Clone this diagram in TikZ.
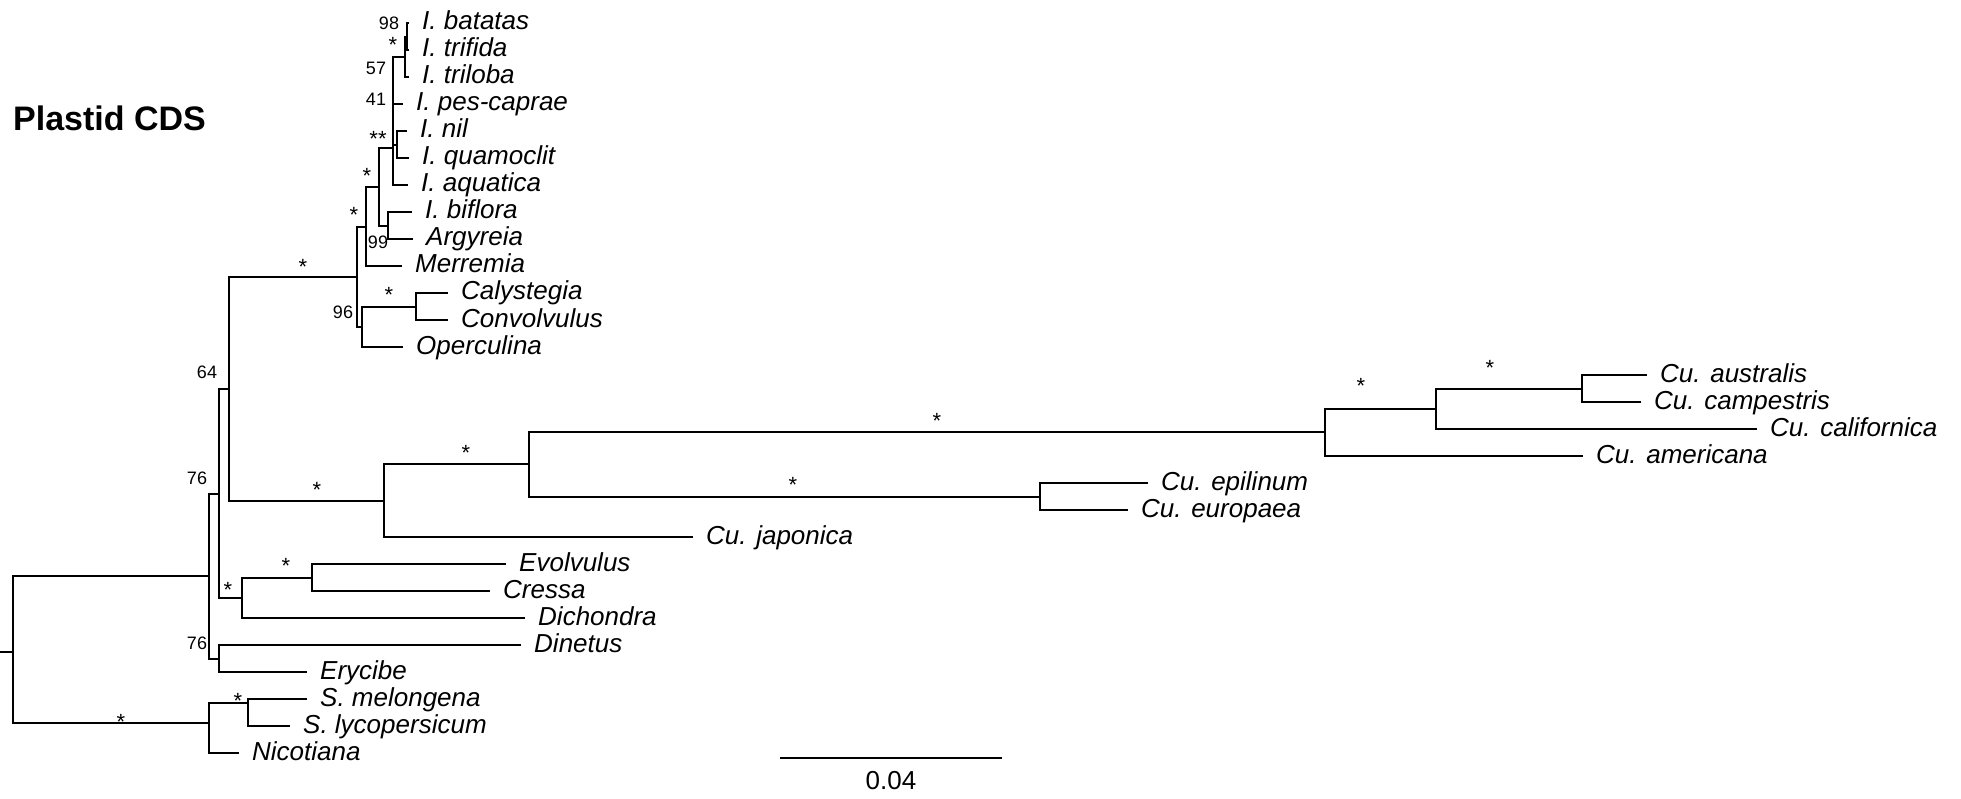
\documentclass[tikz,border=0pt]{standalone}
\usepackage{fontspec}
\setmainfont{Liberation Sans}
\newcommand\tiplbl[4]{\coordinate (#1) at (#2,#3); \node[taxon] (#1-l) at (#2+13,#3+7) {#4};}
\begin{document}
\begin{tikzpicture}[x=1pt,y=-1pt,
  branch/.style={line width=2.8pt},
  taxon/.style={font=\fontsize{26}{26}\selectfont\itshape, inner sep=0pt, anchor=base west},
  supp/.style={font=\fontsize{18}{18}\selectfont, inner sep=0pt, anchor=base},
  starlbl/.style={font=\fontsize{22}{22}\selectfont, inner sep=0pt, anchor=base}]
\useasboundingbox (0,0) rectangle (1961,799);

% title
\node[font=\fontsize{34}{34}\selectfont\bfseries, inner sep=0pt, anchor=base west] (title) at (13,131) {Plastid CDS};

% internal nodes
\coordinate (stub) at (0,652);
\coordinate (root) at (13,652);
\coordinate (A) at (209,576);
\coordinate (S) at (209,723);
\coordinate (B) at (219,494);
\coordinate (F) at (219,659);
\coordinate (C) at (229,389);
\coordinate (D) at (242,598);
\coordinate (G) at (357,277);
\coordinate (Q) at (384,501);
\coordinate (J) at (366,227);
\coordinate (H) at (362,327);
\coordinate (K) at (379,187);
\coordinate (P) at (393,148);
\coordinate (L) at (388,226);
\coordinate (N) at (405,57);
\coordinate (O) at (407,37);
\coordinate (NQ) at (397,145);
\coordinate (I) at (416,307);
\coordinate (R) at (529,464);
\coordinate (V) at (1325,432);
\coordinate (W) at (1436,409);
\coordinate (X) at (1582,389);
\coordinate (U) at (1040,497);
\coordinate (E) at (312,578);
\coordinate (T) at (248,703);

% tips
\tiplbl{batatas}{409}{23}{I. batatas}
\tiplbl{trifida}{409}{50}{I. trifida}
\tiplbl{triloba}{409}{77}{I. triloba}
\tiplbl{pescaprae}{403}{104}{I. pes-caprae}
\tiplbl{nil}{407}{131}{I. nil}
\tiplbl{quamoclit}{409}{158}{I. quamoclit}
\tiplbl{aquatica}{408}{185}{I. aquatica}
\tiplbl{biflora}{412}{212}{I. biflora}
\tiplbl{argyreia}{413}{239}{Argyreia}
\tiplbl{merremia}{402}{266}{Merremia}
\tiplbl{calystegia}{448}{293}{Calystegia}
\tiplbl{convolvulus}{448}{320}{Convolvulus}
\tiplbl{operculina}{403}{347}{Operculina}
\tiplbl{australis}{1647}{375}{Cu. australis}
\tiplbl{campestris}{1641}{402}{Cu. campestris}
\tiplbl{californica}{1757}{429}{Cu. californica}
\tiplbl{americana}{1583}{456}{Cu. americana}
\tiplbl{epilinum}{1148}{483}{Cu. epilinum}
\tiplbl{europaea}{1128}{510}{Cu. europaea}
\tiplbl{japonica}{693}{537}{Cu. japonica}
\tiplbl{evolvulus}{506}{564}{Evolvulus}
\tiplbl{cressa}{490}{591}{Cressa}
\tiplbl{dichondra}{525}{618}{Dichondra}
\tiplbl{dinetus}{521}{645}{Dinetus}
\tiplbl{erycibe}{307}{672}{Erycibe}
\tiplbl{melongena}{307}{699}{S. melongena}
\tiplbl{lycopersicum}{290}{726}{S. lycopersicum}
\tiplbl{nicotiana}{239}{753}{Nicotiana}

% branches
\draw[branch] (stub) -- (root);
\foreach \p/\c in {root/A, root/S, A/B, A/F, B/C, B/D, C/G, C/Q,
  G/J, G/H, J/K, J/merremia, K/P, K/L,
  P/N, P/pescaprae, P/NQ, P/aquatica,
  N/O, N/triloba, O/batatas, O/trifida, NQ/nil, NQ/quamoclit,
  L/biflora, L/argyreia, H/I, H/operculina, I/calystegia, I/convolvulus,
  Q/R, Q/japonica, R/V, R/U, V/W, V/americana, W/X, W/californica,
  X/australis, X/campestris, U/epilinum, U/europaea,
  D/E, D/dichondra, E/evolvulus, E/cressa, F/dinetus, F/erycibe,
  S/T, S/nicotiana, T/melongena, T/lycopersicum}
  \draw[branch] (\p) |- (\c);

% support values
\node[supp] (s98) at (389,29.4) {98};
\node[starlbl] (s1) at (393,53) {*};
\node[supp] (s57) at (376,74.4) {57};
\node[supp] (s41) at (376,105.4) {41};
\node[starlbl] (s2) at (378,147) {**};
\node[starlbl] (s3) at (367,184) {*};
\node[starlbl] (s4) at (354,223) {*};
\node[supp] (s99) at (378,248.4) {99};
\node[starlbl] (s5) at (303,275) {*};
\node[starlbl] (s6) at (389,303) {*};
\node[supp] (s96) at (343,318.4) {96};
\node[supp] (s64) at (207,378.4) {64};
\node[supp] (s76a) at (197,484.4) {76};
\node[supp] (s76b) at (197,649.4) {76};
\node[starlbl] (s7) at (317,497) {*};
\node[starlbl] (s8) at (286,573) {*};
\node[starlbl] (s9) at (228,597) {*};
\node[starlbl] (s10) at (238,708) {*};
\node[starlbl] (s11) at (121,729) {*};
\node[starlbl] (s12) at (466,460) {*};
\node[starlbl] (s13) at (937,428) {*};
\node[starlbl] (s14) at (793,492) {*};
\node[starlbl] (s15) at (1361,393) {*};
\node[starlbl] (s16) at (1490,375) {*};

% scale bar
\coordinate (sb1) at (780,758);
\coordinate (sb2) at (1002,758);
\draw[branch] (sb1) -- (sb2);
\node[font=\fontsize{26}{26}\selectfont, inner sep=0pt, anchor=base] (sbl) at (891,789) {0.04};
\end{tikzpicture}
\end{document}
